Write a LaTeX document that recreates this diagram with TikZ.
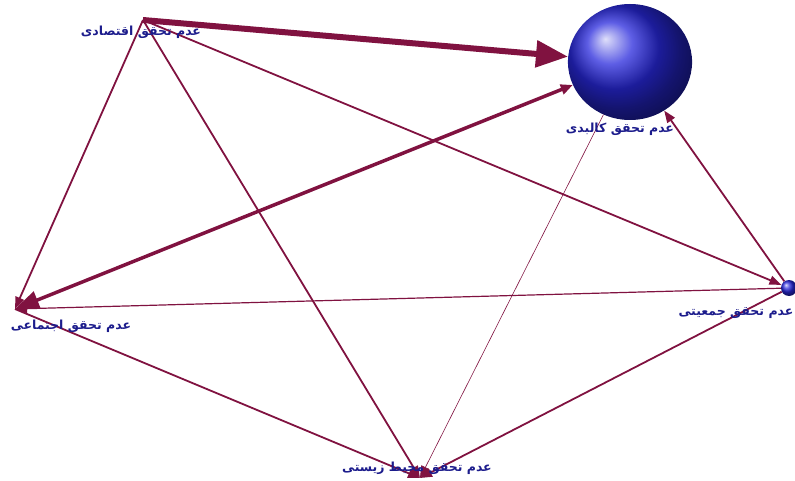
\documentclass[tikz,border=0pt]{standalone}
\usepackage{fontspec}
\newfontfamily\farsifont[Script=Arabic]{DejaVu Sans}
\TeXXeTstate=1
\usetikzlibrary{arrows.meta, positioning}
\definecolor{edgered}{RGB}{128,18,64}
\definecolor{labelblue}{RGB}{28,28,140}
\definecolor{ballblue}{RGB}{40,40,220}

\begin{document}
\begin{tikzpicture}[
      x=1pt, y=-1pt,
      link/.style={
         draw=edgered,
         line width=1.8pt,
         -{Triangle[length=12pt,width=9pt]}
      },
      factor/.style={
         text=labelblue,
         font=\farsifont\bfseries\fontsize{12.5}{14}\selectfont,
         inner sep=1pt
      },
      sphere/.style={
         shape=circle,
         shading=ball,
         ball color=ballblue,
         inner sep=0pt
      }
   ]
      \useasboundingbox (0,0) rectangle (795,481);

      % factors
      \node[sphere, minimum size=116pt, xscale=1.07] (phys) at (630,62) {};
      \node[sphere, minimum size=16pt] (pop) at (789,288) {};
      \coordinate (econ) at (143,20);
      \coordinate (soc) at (15,309);
      \coordinate (env) at (420,478);

      % links
      \draw[link, line width=6pt, -{Triangle[length=32pt,width=26pt]}] (econ) -- (phys);
      \draw[link, line width=3.5pt,
         {Triangle[length=24pt,width=18pt]}-{Triangle[length=12pt,width=10pt]}] (soc) -- (phys);
      \draw[link] (econ) -- (soc);
      \draw[link] (econ) -- (env);
      \draw[link] (econ) -- (pop);
      \draw[link] (soc) -- (env);
      \draw[link] (pop) -- (phys);
      \draw[link, line width=1.2pt] (pop) -- (soc);
      \draw[link] (pop) -- (env);
      \draw[link, line width=0.6pt] (phys) -- (env);

      % labels
      \node[factor] (econ-lbl) at (141,32) {\beginR عدم تحقق اقتصادی\endR};
      \node[factor] (phys-lbl) at (620,129) {\beginR عدم تحقق کالبدی\endR};
      \node[factor] (soc-lbl) at (71,326) {\beginR عدم تحقق اجتماعی\endR};
      \node[factor] (pop-lbl) at (736,313) {\beginR عدم تحقق  جمعیتی\endR};
      \node[factor] (env-lbl) at (417,468) {\beginR عدم تحقق محیط زیستی\endR};
   \end{tikzpicture}
\end{document}
